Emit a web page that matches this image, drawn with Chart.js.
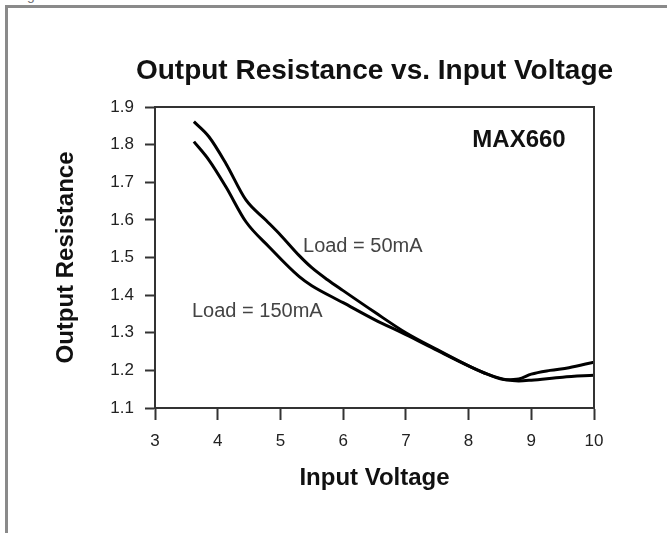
<!DOCTYPE html>
<html>
<head>
<meta charset="utf-8">
<script src="https://cdn.jsdelivr.net/npm/chart.js@4.4.0/dist/chart.umd.min.js"></script>
<style>
  html, body { margin: 0; padding: 0; background: #fff; }
  #wrap { position: relative; width: 667px; height: 533px; overflow: hidden; }
  #frame { position: absolute; left: 5px; top: 5px; right: -10px; bottom: -10px;
           border-top: 3px solid #8a8a8a; border-left: 3px solid #8a8a8a; }
  #frag { position: absolute; left: 27px; top: -13px; font: 14px "Liberation Sans", Arial, sans-serif; color: #777; }
  canvas { position: absolute; left: 0; top: 0; }
</style>
</head>
<body>
<div id="wrap">
  <div id="frame"></div>
  <div id="frag">g</div>
  <canvas id="c" width="667" height="533"></canvas>
</div>
<script>
// ---- data ----
const voltage50 = [3.62, 3.86, 4.13, 4.45, 4.77, 5.0, 5.3, 5.5, 5.75, 6.0, 6.5, 7.0, 7.5, 8.0, 8.3, 8.6, 8.8, 9.0, 9.3, 9.6, 10.0];
const res50     = [1.861, 1.821, 1.750, 1.653, 1.599, 1.560, 1.505, 1.473, 1.441, 1.412, 1.355, 1.300, 1.255, 1.212, 1.190, 1.175, 1.177, 1.190, 1.200, 1.207, 1.222];
const voltage150 = [3.62, 3.86, 4.13, 4.45, 4.82, 5.3, 5.5, 6.0, 6.5, 7.0, 7.5, 8.0, 8.3, 8.6, 8.8, 9.0, 9.5, 10.0];
const res150     = [1.808, 1.759, 1.688, 1.595, 1.528, 1.449, 1.425, 1.380, 1.335, 1.295, 1.253, 1.212, 1.190, 1.175, 1.172, 1.174, 1.182, 1.187];
const xTickLabels = ['3', '4', '5', '6', '7', '8', '9', '10'];
const yTickLabels = ['1.1', '1.2', '1.3', '1.4', '1.5', '1.6', '1.7', '1.8', '1.9'];
const seriesNames = ['Load = 50mA', 'Load = 150mA'];
const chartTitle = 'Output Resistance vs. Input Voltage';
const xTitle = 'Input Voltage';
const yTitle = 'Output Resistance';
const partName = 'MAX660';

const FONT = '"Liberation Sans", Arial, Helvetica, sans-serif';

function toPoints(xs, ys) { return xs.map((x, i) => ({ x: x, y: ys[i] })); }

const boxPlugin = {
  id: 'boxPlugin',
  afterDraw(chart) {
    const { ctx, chartArea: a, scales } = chart;
    ctx.save();
    ctx.strokeStyle = '#333';
    ctx.lineWidth = 2;
    ctx.strokeRect(a.left, a.top, a.right - a.left, a.bottom - a.top);
    // annotations
    const put = (txt, xv, yv, font, color) => {
      ctx.font = font;
      ctx.fillStyle = color;
      ctx.textAlign = 'left';
      ctx.textBaseline = 'middle';
      ctx.fillText(txt, scales.x.getPixelForValue(xv), scales.y.getPixelForValue(yv));
    };
    put(partName, 8.06, 1.812, 'bold 24px ' + FONT, '#111');
    put(seriesNames[0], 5.36, 1.528, '20px ' + FONT, '#444');
    put(seriesNames[1], 3.59, 1.357, '20px ' + FONT, '#444');
    ctx.restore();
  }
};

new Chart(document.getElementById('c'), {
  type: 'line',
  data: {
    datasets: [
      { label: seriesNames[0], data: toPoints(voltage50, res50) },
      { label: seriesNames[1], data: toPoints(voltage150, res150) }
    ]
  },
  options: {
    responsive: false,
    animation: false,
    devicePixelRatio: 1,
    layout: { padding: { left: 82, right: 0, top: 0, bottom: 0 } },
    elements: {
      line: { borderColor: '#000', borderWidth: 3, tension: 0.4, cubicInterpolationMode: 'monotone', fill: false },
      point: { radius: 0, hoverRadius: 0 }
    },
    plugins: {
      legend: { display: false },
      tooltip: { enabled: false },
      title: {
        display: true,
        text: chartTitle,
        color: '#111',
        font: { family: FONT, size: 28, weight: 'bold', lineHeight: 1.2 },
        padding: { top: 54.2, bottom: 19.2 }
      }
    },
    scales: {
      x: {
        type: 'linear',
        min: 3, max: 10,
        afterFit(s) { s.height = 125; },
        border: { display: true, color: '#333', width: 2 },
        grid: { drawOnChartArea: false, drawTicks: true, tickLength: 12, tickColor: '#333', tickWidth: 2 },
        ticks: {
          stepSize: 1,
          padding: 11,
          color: '#222',
          font: { family: FONT, size: 17 },
          callback: (v) => xTickLabels[Math.round(v - 3)]
        },
        title: {
          display: true, text: xTitle, color: '#111',
          font: { family: FONT, size: 24, weight: 'bold', lineHeight: 1.2 },
          padding: { top: 0, bottom: 40 }
        }
      },
      y: {
        type: 'linear',
        min: 1.1, max: 1.9,
        afterFit(s) { s.width = 73; },
        border: { display: true, color: '#333', width: 2 },
        grid: { drawOnChartArea: false, drawTicks: true, tickLength: 10, tickColor: '#333', tickWidth: 2 },
        ticks: {
          stepSize: 0.1,
          padding: 11,
          color: '#222',
          font: { family: FONT, size: 17 },
          callback: (v) => yTickLabels[Math.round((v - 1.1) * 10)]
        },
        title: {
          display: true, text: yTitle, color: '#111',
          font: { family: FONT, size: 24, weight: 'bold', lineHeight: 1.2 },
          padding: { top: -30.4, bottom: 0 }
        }
      },
      yRight: {
        type: 'linear',
        position: 'right',
        min: 1.1, max: 1.9,
        afterFit(s) { s.width = 73; },
        border: { display: false },
        grid: { display: false },
        ticks: { display: false }
      }
    }
  },
  plugins: [boxPlugin]
});
</script>
</body>
</html>
